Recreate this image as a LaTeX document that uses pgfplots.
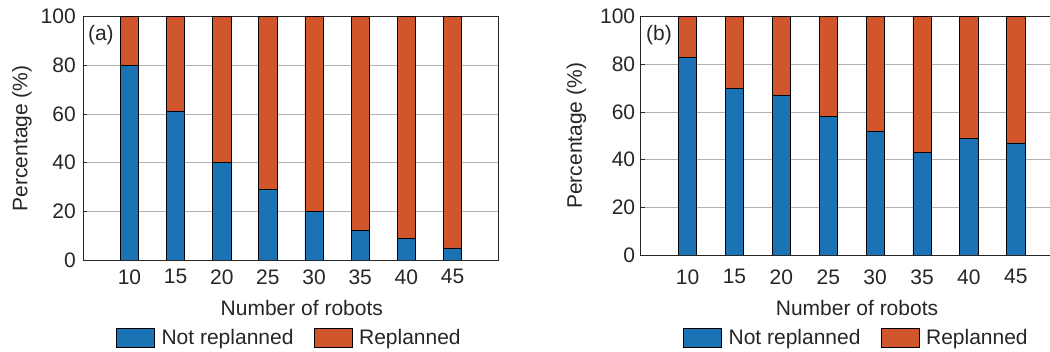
\documentclass[border=0pt]{standalone}
\usepackage{pgfplots}
\pgfplotsset{compat=1.18}
\usepackage{fontspec}
\setmainfont{Liberation Sans}
\definecolor{mblue}{RGB}{27,114,181}
\definecolor{morange}{RGB}{210,86,44}
\definecolor{txt}{RGB}{38,38,38}
\pgfplotsset{
  mystyle/.style={
    scale only axis,
    ybar stacked,
    bar width=18.3pt,
    ymin=0, ymax=100,
    xmin=-1, xmax=8,
    xtick={0,...,7},
    xticklabels={10,15,20,25,30,35,40,45},
    ytick={0,20,40,60,80,100},
    ymajorgrids,
    major grid style={black!30, line width=0.8pt},
    axis line style={txt, line width=0.9pt},
    tick style={txt, line width=0.7pt},
    tick align=inside,
    major tick length=4pt,
    xtick pos=bottom, ytick pos=left,
    font=\fontsize{21}{24}\selectfont,
    every tick label/.append style={text=txt},
    /pgf/number format/assume math mode=true,
    label style={text=txt},
    ylabel={Percentage (\%)},
    xlabel={Number of robots},
    legend columns=2,
    legend cell align=left,
    legend style={draw=none, fill=none, text=txt, font=\fontsize{21}{24}\selectfont,
      /tikz/every even column/.append style={column sep=18pt},
      anchor=center},
    legend image code/.code={\draw[#1, line width=0.6pt] (0pt,-9.5pt) rectangle (38pt,9.5pt); \path (43pt,0pt);},
  }
}
\begin{document}
\begin{tikzpicture}[x=1pt,y=1pt]
\begin{axis}[mystyle,
  at={(83.3pt,92pt)}, anchor=south west,
  width=415.4pt, height=243.3pt,
  xticklabel style={yshift=-6pt},
  yticklabel style={xshift=-4pt},
  ylabel style={at={(axis description cs:-0.148,0.5)}, anchor=center},
  xlabel style={at={(axis description cs:0.526,-0.197)}, anchor=center},
  legend style={at={(axis description cs:0.496,-0.32)}},
]
\addplot[fill=mblue, draw=black, line width=0.6pt] coordinates {(0,80) (1,61) (2,40) (3,29) (4,20) (5,12) (6,9) (7,5)};
\addplot[fill=morange, draw=black, line width=0.6pt] coordinates {(0,20) (1,39) (2,60) (3,71) (4,80) (5,88) (6,91) (7,95)};
\legend{Not replanned, Replanned}
\node[anchor=west, text=txt, font=\fontsize{21}{24}\selectfont, inner sep=0pt] at (axis description cs:0.011,0.925) {(a)};
\end{axis}
\begin{axis}[mystyle,
  at={(640.7pt,97pt)}, anchor=south west,
  width=422pt, height=238.3pt,
  xticklabel style={yshift=-11pt},
  yticklabel style={xshift=-2pt},
  ylabel style={at={(axis description cs:-0.152,0.5)}, anchor=center},
  xlabel style={at={(axis description cs:0.5126,-0.222)}, anchor=center},
  legend style={at={(axis description cs:0.511,-0.348)}},
]
\addplot[fill=mblue, draw=black, line width=0.6pt] coordinates {(0,83) (1,70) (2,67) (3,58) (4,52) (5,43) (6,49) (7,47)};
\addplot[fill=morange, draw=black, line width=0.6pt] coordinates {(0,17) (1,30) (2,33) (3,42) (4,48) (5,57) (6,51) (7,53)};
\legend{Not replanned, Replanned}
\node[anchor=west, text=txt, font=\fontsize{21}{24}\selectfont, inner sep=0pt] at (axis description cs:0.0126,0.923) {(b)};
\end{axis}
\pgfresetboundingbox
\path[use as bounding box] (0,0) rectangle (1050,352);
\end{tikzpicture}
\end{document}
